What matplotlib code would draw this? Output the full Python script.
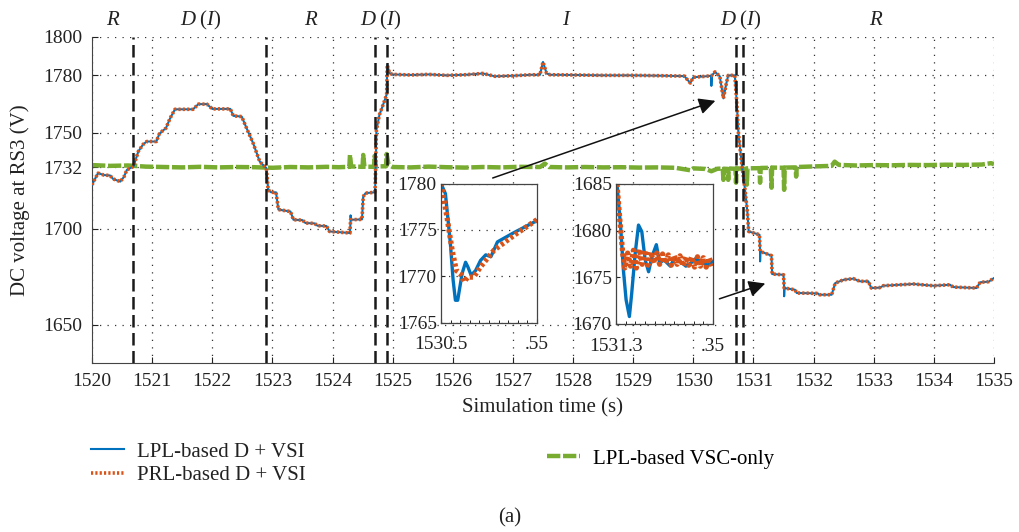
import matplotlib
matplotlib.use("Agg")
import matplotlib.pyplot as plt
import numpy as np

plt.rcParams['font.family'] = ['Liberation Serif', 'DejaVu Serif']
plt.rcParams['mathtext.fontset'] = 'custom'
plt.rcParams['mathtext.rm'] = 'Liberation Serif'
plt.rcParams['mathtext.it'] = 'Liberation Serif:italic'

BLUE = '#0072BD'
ORANGE = '#D95319'
GREEN = '#77AC30'

# PRL-based D + VSI (main trace)
t_prl = [1520.00, 1520.05, 1520.10, 1520.20, 1520.30, 1520.35, 1520.47, 1520.53, 1520.58, 1520.69,
         1520.77, 1520.85, 1520.91, 1521.07, 1521.12, 1521.16, 1521.23, 1521.30, 1521.38, 1521.68,
         1521.77, 1521.91, 1522.00, 1522.30, 1522.35, 1522.49, 1522.57, 1522.68, 1522.79, 1522.90,
         1522.93, 1522.98, 1523.06, 1523.10, 1523.30, 1523.35, 1523.50, 1523.55, 1523.70, 1523.75,
         1523.90, 1523.95, 1524.29, 1524.30, 1524.49, 1524.51, 1524.55, 1524.70, 1524.71, 1524.73,
         1524.78, 1524.87, 1524.90, 1524.91, 1524.95, 1525.00, 1525.30, 1525.60, 1525.90, 1526.20,
         1526.50, 1526.70, 1527.00, 1527.30, 1527.45, 1527.50, 1527.56, 1527.62, 1528.00, 1528.50,
         1529.00, 1529.50, 1529.85, 1529.95, 1530.00, 1530.20, 1530.30, 1530.36, 1530.44, 1530.50,
         1530.55, 1530.58, 1530.69, 1530.72, 1530.75, 1530.81, 1530.86, 1530.90, 1530.92, 1531.10,
         1531.11, 1531.30, 1531.31, 1531.50, 1531.51, 1531.69, 1531.72, 1532.07, 1532.10, 1532.30,
         1532.36, 1532.50, 1532.66, 1532.77, 1532.91, 1532.96, 1533.10, 1533.16, 1533.66, 1533.99,
         1534.27, 1534.32, 1534.71, 1534.77, 1534.91, 1535.00]
v_prl = [1722.9, 1726.0, 1729.0, 1728.0, 1727.8, 1726.0, 1724.6, 1727.0, 1730.7, 1732.5,
         1740.3, 1744.0, 1745.5, 1745.5, 1749.5, 1750.7, 1752.5, 1757.7, 1762.3, 1762.3,
         1765.0, 1765.0, 1762.5, 1762.5, 1758.9, 1758.5, 1752.5, 1744.6, 1735.0, 1731.6,
         1720.3, 1719.0, 1719.0, 1710.0, 1709.0, 1704.7, 1704.5, 1703.0, 1702.8, 1701.6,
         1701.4, 1698.6, 1697.8, 1704.7, 1704.9, 1716.8, 1718.6, 1719.0, 1722.0, 1751.6,
         1759.4, 1767.2, 1770.0, 1785.4, 1781.0, 1780.5, 1780.2, 1780.5, 1780.0, 1780.3,
         1781.0, 1779.5, 1779.8, 1780.3, 1780.3, 1787.0, 1781.0, 1780.3, 1780.2, 1780.0,
         1780.0, 1779.8, 1779.6, 1776.0, 1779.0, 1779.5, 1779.8, 1781.8, 1779.5, 1768.0,
         1776.0, 1780.0, 1780.0, 1767.0, 1750.0, 1732.5, 1720.3, 1708.3, 1698.6, 1696.9,
         1688.2, 1686.0, 1676.4, 1676.0, 1669.1, 1668.2, 1666.5, 1666.3, 1665.6, 1665.6,
         1671.7, 1673.4, 1674.0, 1672.6, 1672.6, 1669.1, 1669.3, 1670.3, 1671.2, 1670.3,
         1670.8, 1669.6, 1669.1, 1672.1, 1672.4, 1674.3]

# extra spikes seen only on the LPL-based D + VSI trace
t_lpl_spk = [1524.300, 1524.305, 1530.300, 1530.305, 1531.110, 1531.115, 1531.510, 1531.515]
v_lpl_spk = [1707.0, 1704.7, 1774.5, 1779.8, 1683.0, 1688.2, 1664.8, 1669.1]

# LPL-based VSC-only
t_vsc = [1520.00, 1520.30, 1520.60, 1520.90, 1521.20, 1521.50, 1521.80, 1522.10, 1522.40, 1522.70,
         1523.00, 1523.30, 1523.60, 1523.90, 1524.10, 1524.28, 1524.29, 1524.31, 1524.50, 1524.51,
         1524.53, 1524.69, 1524.70, 1524.72, 1524.89, 1524.90, 1524.93, 1525.00, 1525.30, 1525.60,
         1525.90, 1526.20, 1526.50, 1526.80, 1527.10, 1527.45, 1527.53, 1527.60, 1527.90, 1528.20,
         1528.50, 1528.80, 1529.10, 1529.40, 1529.70, 1529.95, 1530.00, 1530.20, 1530.30, 1530.40,
         1530.49, 1530.50, 1530.51, 1530.57, 1530.58, 1530.59, 1530.70, 1530.71, 1530.72, 1530.88,
         1530.89, 1530.90, 1531.10, 1531.11, 1531.12, 1531.29, 1531.30, 1531.31, 1531.50, 1531.51,
         1531.52, 1531.70, 1531.71, 1531.72, 1532.00, 1532.30, 1532.35, 1532.42, 1532.70, 1533.00,
         1533.30, 1533.60, 1533.90, 1534.20, 1534.50, 1534.80, 1534.95, 1535.00]
v_vsc = [1733.2, 1732.8, 1733.0, 1732.4, 1732.2, 1732.0, 1732.3, 1732.0, 1732.2, 1732.1,
         1731.8, 1732.2, 1732.0, 1732.3, 1732.1, 1732.3, 1738.5, 1732.5, 1732.3, 1738.5,
         1732.4, 1732.3, 1738.0, 1732.5, 1732.6, 1739.0, 1733.5, 1732.2, 1732.0, 1732.4,
         1732.1, 1731.9, 1732.2, 1732.0, 1732.3, 1732.2, 1734.0, 1732.2, 1732.0, 1732.2,
         1732.0, 1732.1, 1731.9, 1732.0, 1731.8, 1730.5, 1731.5, 1731.2, 1730.0, 1731.3,
         1731.4, 1725.5, 1731.3, 1731.2, 1725.5, 1731.4, 1731.3, 1724.0, 1731.5, 1731.2,
         1723.0, 1731.5, 1731.6, 1724.0, 1731.7, 1731.8, 1721.4, 1731.9, 1731.8, 1720.3,
         1731.9, 1732.0, 1727.2, 1732.2, 1732.5, 1732.8, 1735.0, 1733.3, 1733.0, 1733.2,
         1733.1, 1733.3, 1733.2, 1733.4, 1733.3, 1733.5, 1734.2, 1733.7]

# inset 1 (1530.50 - 1530.55)
t_in1_lpl = [1530.5000, 1530.5023, 1530.5049, 1530.5063, 1530.5075, 1530.5087, 1530.5110, 1530.5128,
             1530.5140, 1530.5157, 1530.5180, 1530.5206, 1530.5233, 1530.5260, 1530.5294, 1530.5380, 1530.5500]
v_in1_lpl = [1780.0, 1778.9, 1773.5, 1769.6, 1767.4, 1767.4, 1770.3, 1771.5,
             1771.0, 1770.1, 1770.6, 1771.7, 1772.3, 1772.1, 1773.7, 1774.7, 1776.0]
t_in1_prl = [1530.5000, 1530.5031, 1530.5058, 1530.5080, 1530.5100, 1530.5120, 1530.5140, 1530.5170,
             1530.5206, 1530.5276, 1530.5380, 1530.5500]
v_in1_prl = [1780.0, 1776.4, 1772.8, 1770.6, 1770.3, 1769.4, 1769.9, 1769.9,
             1771.0, 1772.8, 1774.4, 1776.1]

# inset 2 (1531.30 - 1531.35)
t_in2_lpl = [1531.3005, 1531.3024, 1531.3038, 1531.3052, 1531.3069, 1531.3081, 1531.3099, 1531.3116,
             1531.3133, 1531.3150, 1531.3168, 1531.3185, 1531.3208, 1531.3225, 1531.3246, 1531.3280,
             1531.3300, 1531.3332, 1531.3360, 1531.3384, 1531.3410, 1531.3436, 1531.3470, 1531.3500]
v_in2_lpl = [1685.0, 1680.4, 1675.8, 1672.6, 1670.8, 1673.3, 1677.6, 1680.6,
             1679.9, 1676.9, 1675.6, 1677.2, 1678.5, 1676.5, 1676.9, 1676.2,
             1677.0, 1676.7, 1676.2, 1676.5, 1677.0, 1676.7, 1676.3, 1676.7]
t_in2_prl = [1531.3005, 1531.3020, 1531.3035, 1531.3045, 1531.3060, 1531.3075, 1531.3090, 1531.3105,
             1531.3120, 1531.3135, 1531.3150, 1531.3165, 1531.3180, 1531.3195, 1531.3210, 1531.3225,
             1531.3240, 1531.3255, 1531.3270, 1531.3285, 1531.3300, 1531.3315, 1531.3330, 1531.3345,
             1531.3360, 1531.3375, 1531.3390, 1531.3405, 1531.3420, 1531.3435, 1531.3450, 1531.3465,
             1531.3480, 1531.3495]
v_in2_prl = [1685.0, 1681.1, 1677.5, 1676.0, 1677.6, 1676.2, 1677.9, 1676.0, 1678.0, 1676.4,
             1677.9, 1676.3, 1677.7, 1676.5, 1677.6, 1676.4, 1677.5, 1676.5, 1677.4, 1676.3,
             1677.3, 1676.4, 1677.3, 1676.2, 1677.2, 1676.3, 1677.2, 1676.1, 1677.2, 1676.2,
             1677.1, 1676.1, 1677.1, 1676.2]

# mode boundaries and region labels
t_bound = [1520.69, 1522.89, 1524.71, 1524.90, 1530.71, 1530.82]
label_t = [1520.35, 1521.8, 1523.64, 1524.80, 1527.9, 1530.78, 1533.05]
label_txt = [r'$R$', r'$D\;(I)$', r'$R$', r'$D\;(I)$', r'$I$', r'$D\;(I)$', r'$R$']

y_ticks = [1650, 1700, 1732, 1750, 1780, 1800]
x_ticks = list(range(1520, 1536))

t_lpl = np.concatenate([t_prl, t_lpl_spk])
v_lpl = np.concatenate([v_prl, v_lpl_spk])
order = np.argsort(t_lpl, kind='stable')
t_lpl, v_lpl = t_lpl[order], v_lpl[order]

W, H = 1019, 532
fig = plt.figure(figsize=(W / 100, H / 100), dpi=100)
ax = fig.add_axes([92 / W, 1 - 363 / H, (994 - 92) / W, (363 - 37) / H])

l1, = ax.plot(t_lpl, v_lpl, color=BLUE, lw=1.5, zorder=3)
l2, = ax.plot(t_prl, v_prl, color=ORANGE, lw=2.6, ls=(0, (0.6, 0.6)), zorder=4)
l3, = ax.plot(t_vsc, v_vsc, color=GREEN, lw=3.2, ls=(0, (3, 0.6)), zorder=2)

for tb in t_bound:
    ax.axvline(tb, color='#1a1a1a', lw=1.8, ls=(0, (5, 2.2)), zorder=5)

for tl, txt in zip(label_t, label_txt):
    ax.text(tl, 1.05, txt, transform=ax.get_xaxis_transform(), ha='center', va='center',
            fontsize=15, color='#222222')

ax.set_xlim(1520, 1535)
ax.set_ylim(1630, 1800)
ax.set_xticks(x_ticks)
ax.set_yticks(y_ticks)
ax.tick_params(direction='in', labelsize=14, pad=7, colors='#222222', length=4)
ax.grid(True, color='#333333', ls=(0, (1, 5)), lw=0.9)
for s in ['top', 'right']:
    ax.spines[s].set_visible(False)
for s in ['left', 'bottom']:
    ax.spines[s].set_color('#444444')

ax.annotate('', xy=(1530.41, 1767.2), xytext=(1526.62, 1726.0),
            arrowprops=dict(arrowstyle='-|>', color='#111111', lw=1.1, mutation_scale=25), zorder=6)
ax.annotate('', xy=(1531.24, 1671.9), xytext=(1530.39, 1663.0),
            arrowprops=dict(arrowstyle='-|>', color='#111111', lw=1.1, mutation_scale=25), zorder=6)

# insets
def inset(rect, t_b, v_b, t_o, v_o, xlim, ylim, xlabels):
    a = fig.add_axes(rect)
    a.set_facecolor('white')
    a.plot(t_b, v_b, color=BLUE, lw=2.4)
    a.plot(t_o, v_o, color=ORANGE, lw=3.8, ls=(0, (0.6, 0.5)))
    a.set_xlim(*xlim)
    a.set_ylim(*ylim)
    a.set_xticks(list(xlim))
    a.set_xticklabels(xlabels)
    a.set_xticks(np.arange(xlim[0], xlim[1] + 1e-9, 0.005), minor=True)
    a.set_yticks(np.arange(ylim[0], ylim[1] + 1, 5))
    a.tick_params(direction='in', labelsize=14, colors='#222222', length=3)
    a.tick_params(axis='y', pad=3)
    a.tick_params(axis='x', pad=10)
    a.tick_params(which='minor', direction='in', length=2)
    a.grid(True, axis='y', color='#333333', ls=(0, (1, 5)), lw=0.9)
    for s in a.spines.values():
        s.set_color('#444444')
        s.set_linewidth(0.9)
    return a

inset([441 / W, 1 - 322.5 / H, 96 / W, 139 / H], t_in1_lpl, v_in1_lpl, t_in1_prl, v_in1_prl,
      (1530.5, 1530.55), (1765, 1780), ['1530.5', '.55'])
inset([616 / W, 1 - 324 / H, 97 / W, 140 / H], t_in2_lpl, v_in2_lpl, t_in2_prl, v_in2_prl,
      (1531.3, 1531.35), (1670, 1685), ['1531.3', '.35'])

fig.text(543 / W, 1 - 408 / H, 'Simulation time (s)', ha='center', va='center', fontsize=15, color='#222222')
fig.text(20 / W, 1 - 200 / H, 'DC voltage at RS3 (V)', ha='center', va='center', rotation=90,
         fontsize=15, color='#222222')

leg1 = fig.legend([l1, l2], ['LPL-based D + VSI', 'PRL-based D + VSI'], loc='upper left',
                  bbox_to_anchor=(91 / W, 1 - 442 / H), frameon=False, fontsize=15,
                  handlelength=1.6, handletextpad=0.6, labelspacing=0.2, borderpad=0, borderaxespad=0)
fig.legend([l3], ['LPL-based VSC-only'], loc='upper left',
           bbox_to_anchor=(547 / W, 1 - 449 / H), frameon=False, fontsize=15,
           handlelength=1.6, handletextpad=0.6, borderpad=0, borderaxespad=0)
for txt in leg1.get_texts():
    txt.set_color('#222222')

fig.text(510 / W, 1 - 518 / H, '(a)', ha='center', va='center', fontsize=15, color='#222222')

fig.savefig('out.png', dpi=100)
